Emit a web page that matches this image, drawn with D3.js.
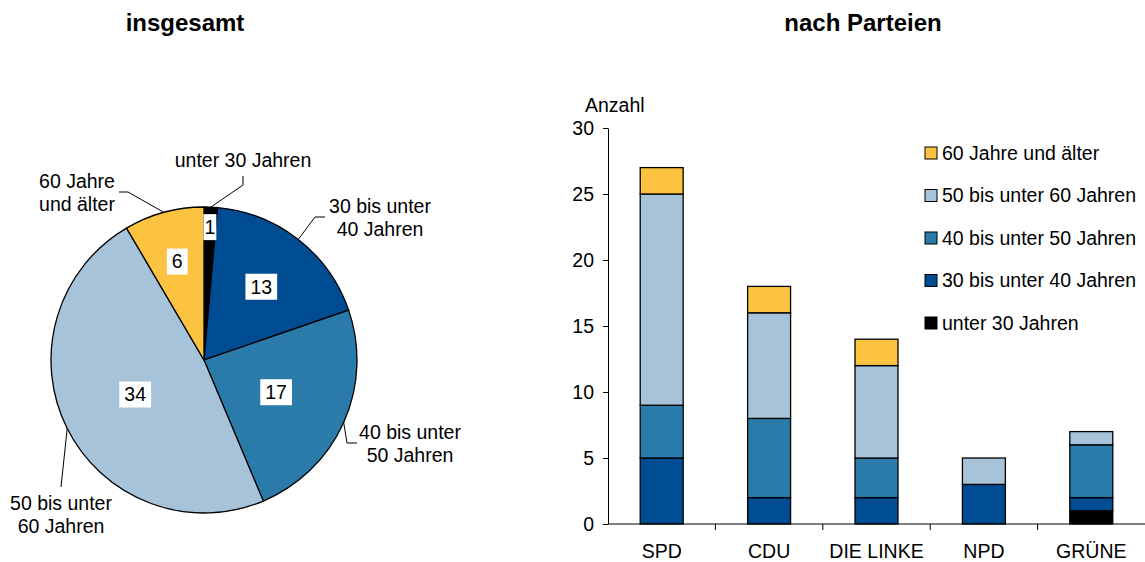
<!DOCTYPE html>
<html>
<head>
<meta charset="utf-8">
<script src="https://cdn.jsdelivr.net/npm/d3@7"></script>
<style>
  body { margin: 0; background: #fff; }
  svg text { font-family: "Liberation Sans", Arial, sans-serif; fill: #000; }
</style>
</head>
<body>
<div id="chart"></div>
<script>
var width = 1145
var height = 562
var fontSize = "19.5px";

// age groups, bottom to top in the stacks, clockwise in the pie
var groups = ["unter 30 Jahren", "30 bis unter 40 Jahren", "40 bis unter 50 Jahren", "50 bis unter 60 Jahren", "60 Jahre und älter"];
var colors = ["#000000", "#004c93", "#2a7ba9", "#a6c3d9", "#fbc33f"];

// pie: totals per age group
var totals = [1, 13, 17, 34, 6];
var pieLabels = [["unter 30 Jahren"], ["30 bis unter", "40 Jahren"], ["40 bis unter", "50 Jahren"], ["50 bis unter", "60 Jahren"], ["60 Jahre", "und älter"]];

// bars: per party
var parties = ["SPD", "CDU", "DIE LINKE", "NPD", "GRÜNE"];
var unter30 = [0, 0, 0, 0, 1];
var j30bis40 = [5, 2, 2, 3, 1];
var j40bis50 = [4, 6, 3, 0, 4];
var j50bis60 = [16, 8, 7, 2, 1];
var j60plus = [2, 2, 2, 0, 0];
var yTicks = [0, 5, 10, 15, 20, 25, 30];

var svg = d3.select("#chart").append("svg")
    .attr("width", width)
    .attr("height", height);

// titles
svg.append("text").attr("x", 185).attr("y", 31).attr("text-anchor", "middle")
    .style("font-size", "24px").style("font-weight", "bold").text("insgesamt");
svg.append("text").attr("x", 863).attr("y", 31).attr("text-anchor", "middle")
    .style("font-size", "24px").style("font-weight", "bold").text("nach Parteien");

// ---- pie ----
var cx = 204, cy = 360, r = 153;
var pieData = d3.pie().sort(null)(totals);
var arc = d3.arc().innerRadius(0).outerRadius(r);
var pieG = svg.append("g").attr("transform", "translate(" + cx + "," + cy + ")");

pieG.selectAll("path.slice")
    .data(pieData)
    .enter().append("path")
    .attr("class", "slice")
    .attr("d", arc)
    .attr("fill", function(d, i) { return colors[i]; })
    .attr("stroke", "#000")
    .attr("stroke-width", 1.3);

// value boxes inside slices
var labelRadius = [133, 93, 79, 77, 102];
var vals = pieG.selectAll("g.val")
    .data(pieData)
    .enter().append("g")
    .attr("class", "val")
    .attr("transform", function(d, i) {
        var c = d3.arc().innerRadius(labelRadius[i]).outerRadius(labelRadius[i]).centroid(d);
        return "translate(" + c[0] + "," + c[1] + ")";
    });
var valRects = vals.append("rect").attr("fill", "#fff");
vals.append("text")
    .attr("text-anchor", "middle")
    .attr("dy", "0.35em")
    .style("font-size", fontSize)
    .text(function(d) { return d.value; });
valRects.each(function(d) {
    var bb = this.parentNode.querySelector("text").getBBox();
    var pad = d.value < 2 ? 1 : 5;
    d3.select(this)
        .attr("x", -bb.width / 2 - pad)
        .attr("y", -13)
        .attr("width", bb.width + 2 * pad)
        .attr("height", 26);
});

// outside labels with leader lines (elbow points and text anchors)
var leaders = [
    { elbow: [[39, -175], [39, -184]], tx: 39, ty: -200, anchor: "middle" },
    { elbow: [[111, -143], [121, -143]], tx: 176, ty: -154, anchor: "middle" },
    { elbow: [[143, 83], [153, 83]], tx: 206, ty: 72, anchor: "middle" },
    { elbow: [[-143, 127]], tx: -143, ty: 143, anchor: "middle" },
    { elbow: [[-76, -168], [-85, -168]], tx: -127, ty: -179, anchor: "middle" }
];
var outer = d3.arc().innerRadius(r).outerRadius(r);
pieData.forEach(function(d, i) {
    var start = outer.centroid(d);
    var pts = [start].concat(leaders[i].elbow);
    pieG.append("path")
        .attr("d", d3.line()(pts))
        .attr("fill", "none")
        .attr("stroke", "#000")
        .attr("stroke-width", 1);
    var t = pieG.append("text")
        .attr("x", leaders[i].tx)
        .attr("y", leaders[i].ty)
        .attr("text-anchor", leaders[i].anchor)
        .style("font-size", fontSize);
    pieLabels[i].forEach(function(line, k) {
        t.append("tspan").attr("x", leaders[i].tx).attr("dy", k == 0 ? "0.35em" : "1.18em").text(line);
    });
});

// ---- stacked bars ----
var margin = { left: 608, right: 0, top: 128, bottom: 524 };
var x = d3.scaleBand()
    .domain(parties)
    .range([margin.left, width])
    .paddingInner(0.6)
    .paddingOuter(0.3);
var y = d3.scaleLinear()
    .domain([0, 30])
    .range([margin.bottom, margin.top]);

var table = parties.map(function(p, i) {
    var row = { party: p };
    row[groups[0]] = unter30[i];
    row[groups[1]] = j30bis40[i];
    row[groups[2]] = j40bis50[i];
    row[groups[3]] = j50bis60[i];
    row[groups[4]] = j60plus[i];
    return row;
});
var series = d3.stack().keys(groups)(table);

svg.append("g").selectAll("g")
    .data(series)
    .enter().append("g")
    .attr("fill", function(d, i) { return colors[i]; })
    .selectAll("rect")
    .data(function(d) { return d.filter(function(v) { return v[1] > v[0]; }); })
    .enter().append("rect")
    .attr("x", function(d) { return x(d.data.party); })
    .attr("width", x.bandwidth())
    .attr("y", function(d) { return y(d[1]); })
    .attr("height", function(d) { return y(d[0]) - y(d[1]); })
    .attr("stroke", "#000")
    .attr("stroke-width", 1.3);

// y axis
var yAxis = svg.append("g")
    .attr("transform", "translate(" + margin.left + ",0)")
    .call(d3.axisLeft(y).tickValues(yTicks).tickSize(5).tickSizeOuter(0).tickPadding(9));
yAxis.selectAll("text").style("font-size", fontSize);
yAxis.select(".domain").attr("stroke", "#000");

svg.append("text").attr("x", 585).attr("y", 112).style("font-size", fontSize).text("Anzahl");

// x axis: baseline with ticks between categories
var xAxis = svg.append("g")
    .attr("transform", "translate(0," + margin.bottom + ")")
    .call(d3.axisBottom(x).tickSize(0).tickPadding(20));
xAxis.select(".domain").attr("d", "M" + margin.left + ",0H" + width).attr("stroke", "#000");
xAxis.selectAll("text").style("font-size", fontSize);
xAxis.selectAll("line.sep")
    .data(parties.slice(1))
    .enter().append("line")
    .attr("class", "sep")
    .attr("x1", function(d) { return x(d) - x.step() * x.paddingInner() / 2; })
    .attr("x2", function(d) { return x(d) - x.step() * x.paddingInner() / 2; })
    .attr("y1", 0)
    .attr("y2", 6)
    .attr("stroke", "#000");

// legend, top entry = oldest group
var legendOrder = groups.slice().reverse();
var legend = svg.append("g").selectAll("g")
    .data(legendOrder)
    .enter().append("g")
    .attr("transform", function(d, i) { return "translate(925," + (153 + i * 42.5) + ")"; });
legend.append("rect")
    .attr("x", 0).attr("y", -6)
    .attr("width", 12).attr("height", 12)
    .attr("fill", function(d) { return colors[groups.indexOf(d)]; })
    .attr("stroke", "#000")
    .attr("stroke-width", 1);
legend.append("text")
    .attr("x", 17)
    .attr("dy", "0.35em")
    .style("font-size", fontSize)
    .text(function(d) { return d; });
</script>
</body>
</html>
